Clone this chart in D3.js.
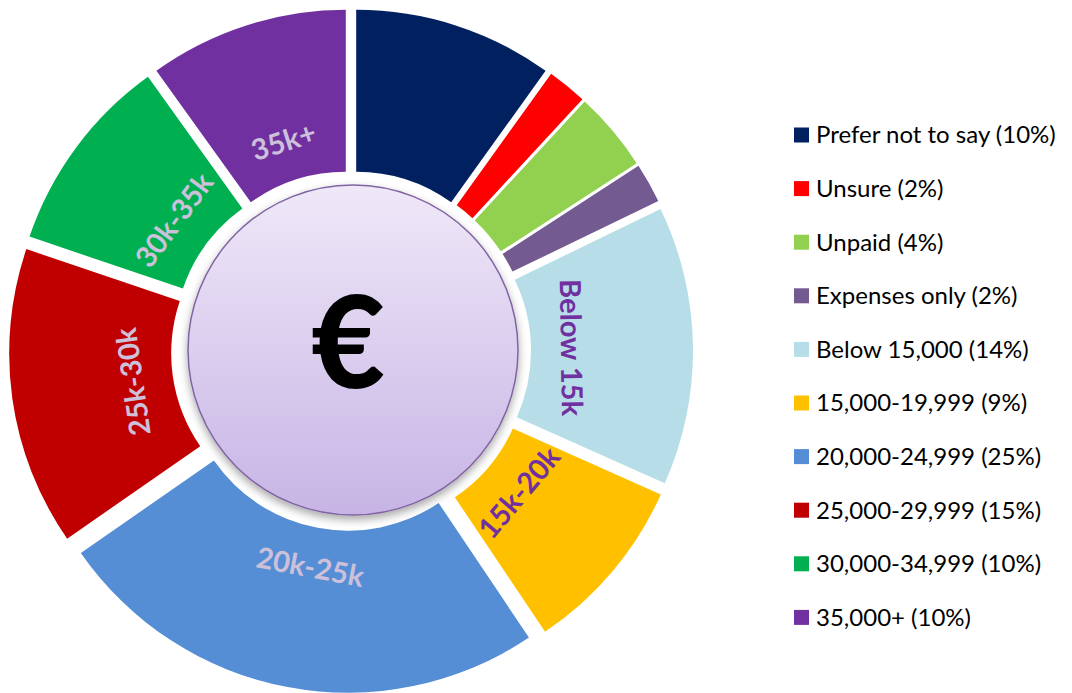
<!DOCTYPE html>
<html>
<head>
<meta charset="utf-8">
<title>Salary donut</title>
<style>
    body { margin: 0; background: #fff; }
    svg { display: block; }
</style>
</head>
<body>
<main></main>
<script src="https://cdn.jsdelivr.net/npm/d3@7"></script>
<script>
    // data ============================
    var categories = ["Prefer not to say", "Unsure", "Unpaid", "Expenses only", "Below 15,000",
        "15,000-19,999", "20,000-24,999", "25,000-29,999", "30,000-34,999", "35,000+"];
    var values = [10, 2, 4, 2, 14, 9, 25, 15, 10, 10];
    var sliceLabels = ["", "", "", "", "Below 15k", "15k-20k", "20k-25k", "25k-30k", "30k-35k", "35k+"];

    // style ===========================
    var colors = ["#002060", "#FF0000", "#92D050", "#735A91", "#B7DEE8",
        "#FFC000", "#558ED5", "#C00000", "#00B050", "#7030A0"];
    var labelColors = ["#CCC0DA", "#CCC0DA", "#CCC0DA", "#CCC0DA", "#7030A0",
        "#7030A0", "#CCC0DA", "#CCC0DA", "#CCC0DA", "#CCC0DA"];
    var width = 1072, height = 693;
    var cx = 351, cy = 351;
    var outerR = 325, innerR = 163;
    var explode = 17;   // slices pushed out along their middle
    var labelR = 203;
    var font = "Lato, 'Open Sans', sans-serif";

    var svg = d3.select("main").append("svg")
        .attr("width", width)
        .attr("height", height);

    var defs = svg.append("defs");
    var grad = defs.append("linearGradient")
        .attr("id", "hub")
        .attr("x1", 0).attr("y1", 0).attr("x2", 0).attr("y2", 1);
    grad.append("stop").attr("offset", "0%").attr("stop-color", "#EFE8F8");
    grad.append("stop").attr("offset", "100%").attr("stop-color", "#C7B4E5");
    var shadow = defs.append("filter").attr("id", "shadow")
        .attr("x", "-20%").attr("y", "-20%").attr("width", "140%").attr("height", "140%");
    shadow.append("feDropShadow")
        .attr("dx", 0).attr("dy", 4).attr("stdDeviation", 4)
        .attr("flood-color", "#000").attr("flood-opacity", 0.35);

    // donut =========================
    var pie = d3.pie().sort(null).value(function (d) { return d; });
    var arc = d3.arc().innerRadius(innerR).outerRadius(outerR);
    var arcs = pie(values);

    function mid(d) { return (d.startAngle + d.endAngle) / 2; }

    var g = svg.append("g").attr("transform", "translate(" + cx + "," + cy + ")");

    var slices = g.selectAll("g.slice")
        .data(arcs)
        .enter().append("g")
        .attr("class", "slice")
        .attr("transform", function (d) {
            var a = mid(d);
            return "translate(" + (explode * Math.sin(a)) + "," + (-explode * Math.cos(a)) + ")";
        });

    slices.append("path")
        .attr("d", arc)
        .attr("fill", function (d, i) { return colors[i]; });

    slices.append("text")
        .attr("transform", function (d) {
            var a = mid(d);
            var deg = a * 180 / Math.PI;
            var rot = deg;
            if (deg > 90 && deg < 240) rot = deg - 180;
            else if (deg >= 240) rot = deg - 360;
            return "translate(" + (labelR * Math.sin(a)) + "," + (-labelR * Math.cos(a)) + ") rotate(" + rot + ")";
        })
        .attr("text-anchor", "middle")
        .attr("dy", "0.35em")
        .attr("font-family", font)
        .attr("font-weight", "bold")
        .attr("font-size", "29px")
        .attr("fill", function (d, i) { return labelColors[i]; })
        .text(function (d, i) { return sliceLabels[i]; });

    // centre disc =====================
    svg.append("circle")
        .attr("cx", 353).attr("cy", 350).attr("r", 165)
        .attr("fill", "url(#hub)")
        .attr("stroke", "#8064A2")
        .attr("stroke-width", 1.5)
        .attr("filter", "url(#shadow)");

    svg.append("text")
        .attr("x", 348).attr("y", 342)
        .attr("dy", "0.36em")
        .attr("text-anchor", "middle")
        .attr("font-family", font)
        .attr("font-weight", 900)
        .attr("font-size", "128px")
        .attr("fill", "#000")
        .text("€");

    // legend =========================
    var legend = svg.append("g").attr("transform", "translate(794,135)");
    var rows = legend.selectAll("g")
        .data(categories)
        .enter().append("g")
        .attr("transform", function (d, i) { return "translate(0," + (i * 53.6) + ")"; });

    rows.append("rect")
        .attr("x", 0).attr("y", -7.5)
        .attr("width", 15).attr("height", 15)
        .attr("fill", function (d, i) { return colors[i]; });

    rows.append("text")
        .attr("x", 22)
        .attr("dy", "0.35em")
        .attr("font-family", font)
        .attr("font-size", "24px")
        .attr("fill", "#000")
        .text(function (d, i) { return d + " (" + values[i] + "%)"; });
</script>
</body>
</html>
